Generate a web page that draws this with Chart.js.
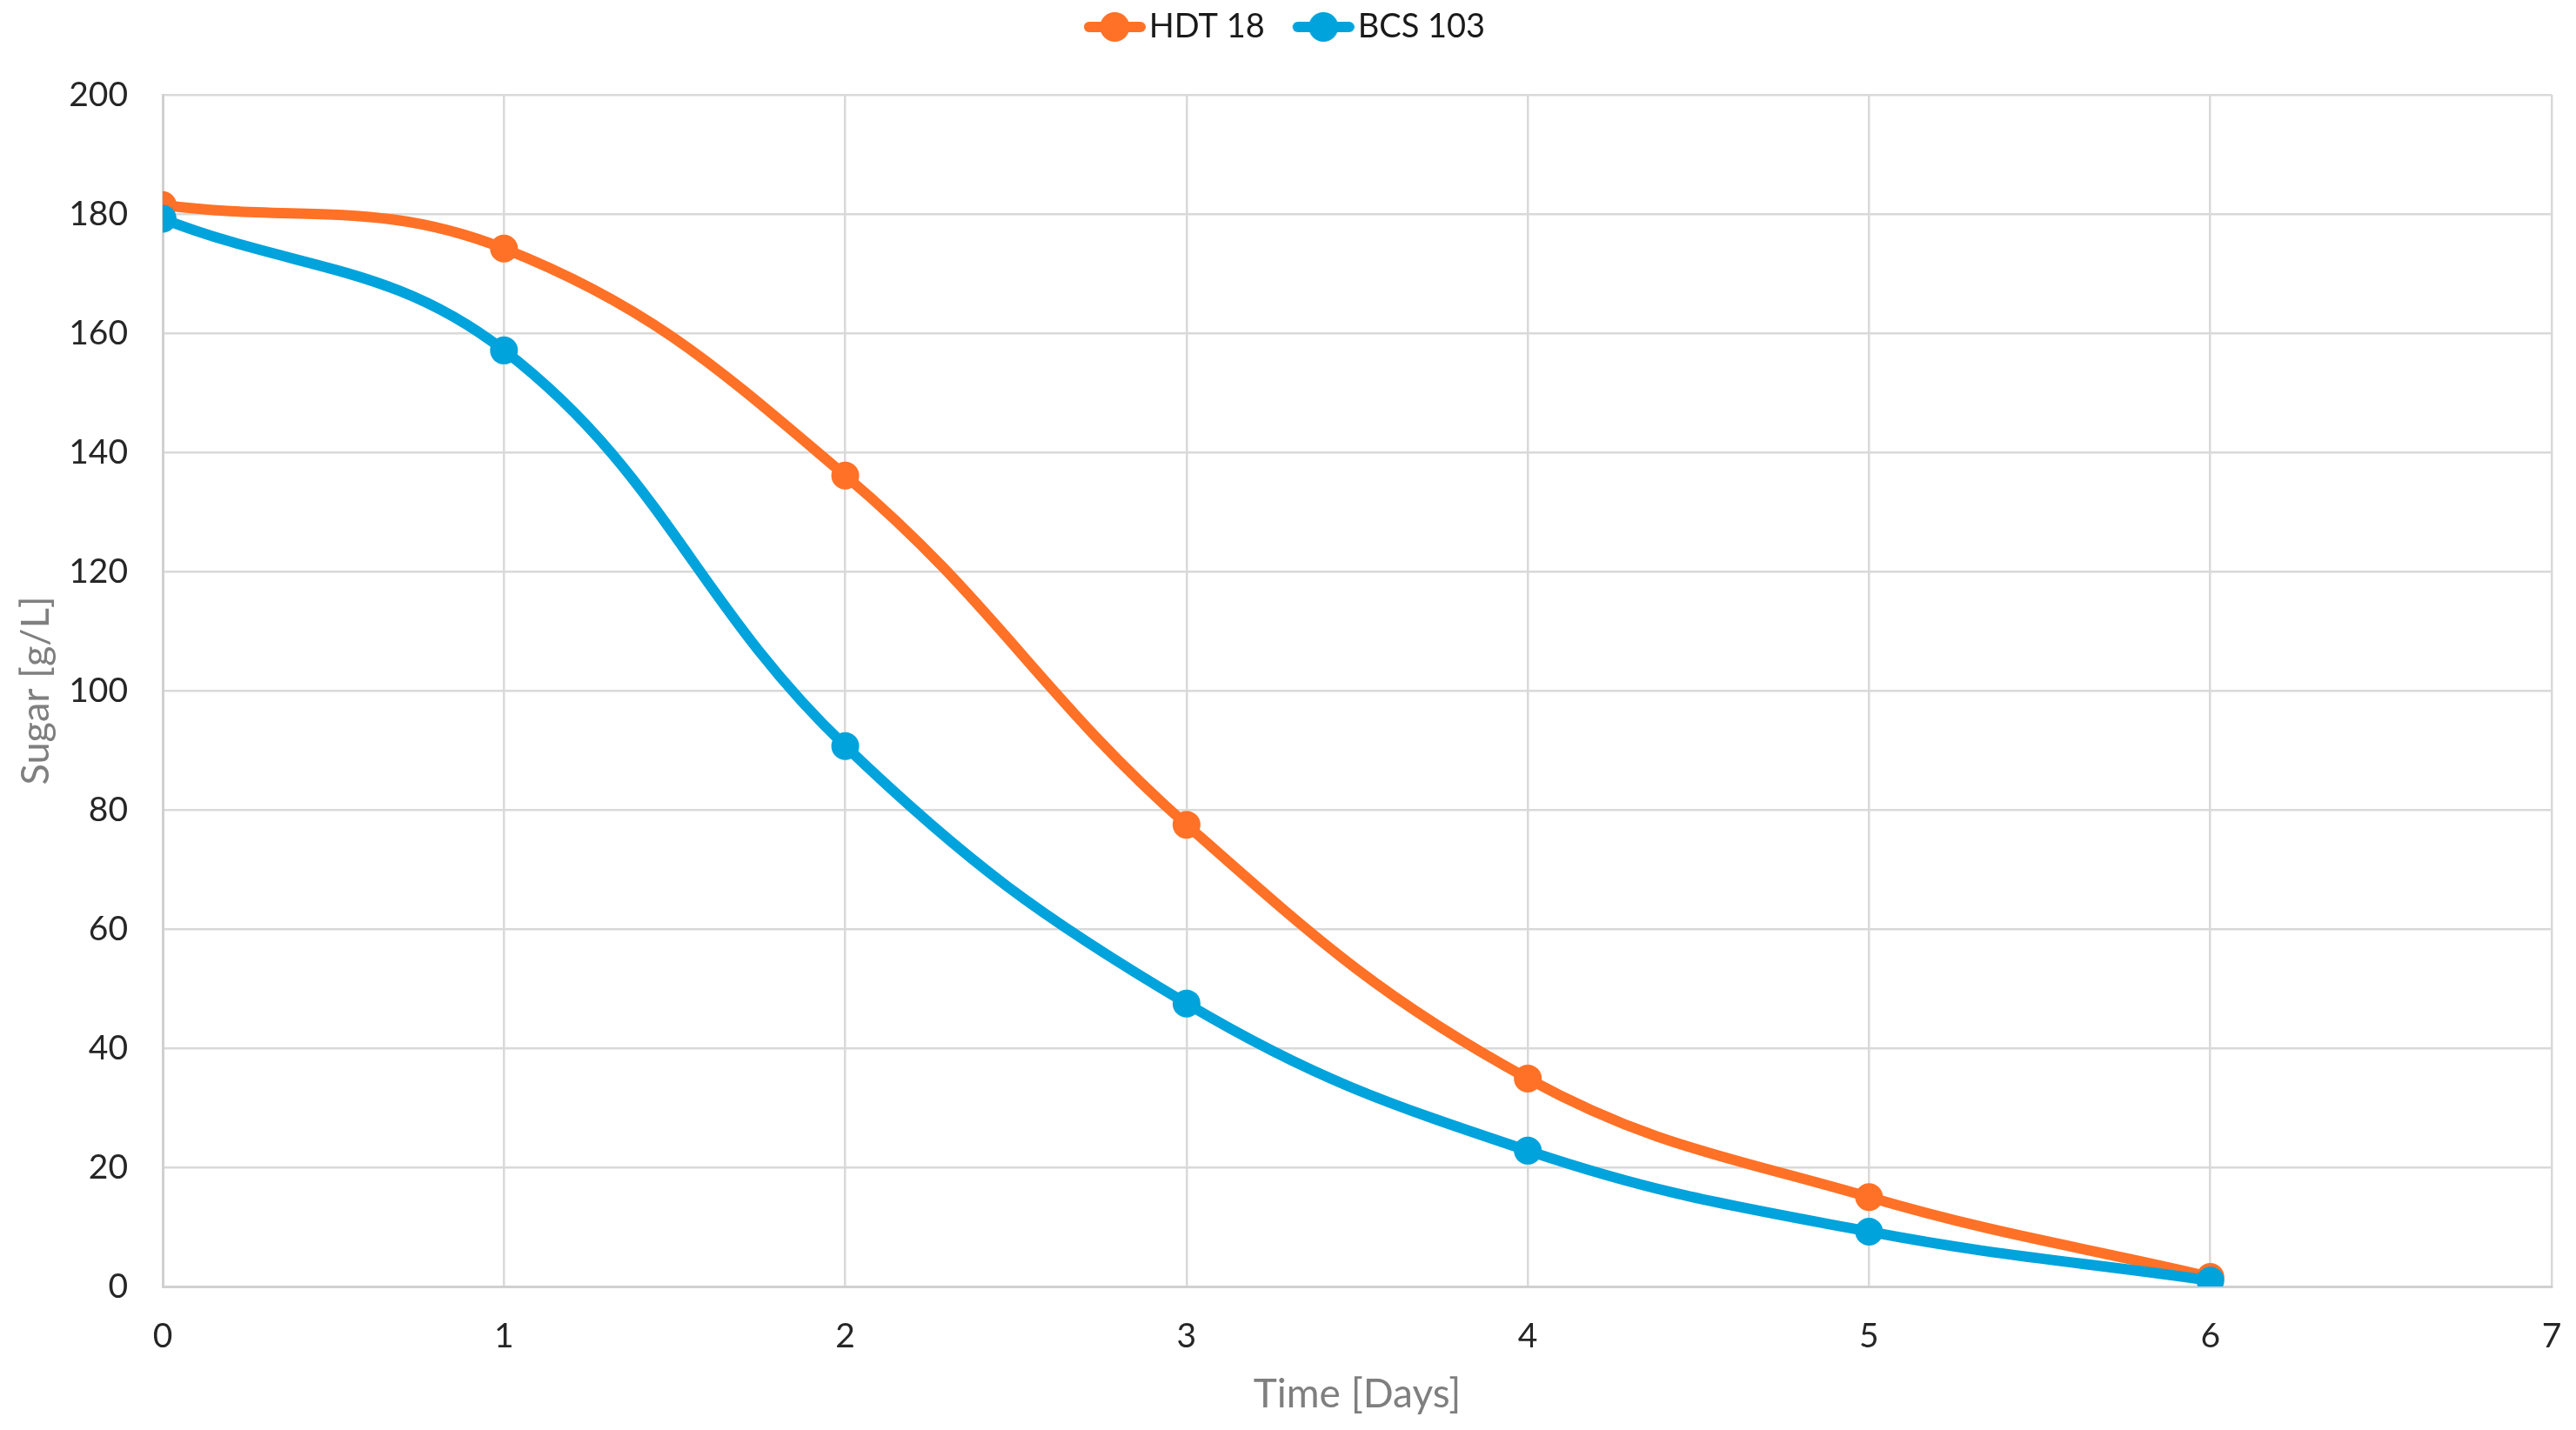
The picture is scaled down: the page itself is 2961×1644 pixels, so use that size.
<!DOCTYPE html>
<html>
<head>
<meta charset="utf-8">
<title>Sugar consumption</title>
<script src="https://cdn.jsdelivr.net/npm/chart.js@4.4.1/dist/chart.umd.min.js"></script>
<style>
  html, body { margin: 0; padding: 0; background: #fff; overflow: hidden; }
  #wrap { width: 2961px; height: 1644px; }
  canvas { display: block; }
</style>
</head>
<body>
<div id="wrap"><canvas id="myChart" width="2961" height="1644"></canvas></div>
<script>
// data
const days = [0, 1, 2, 3, 4, 5, 6];
const hdt18 = [181.5, 174.2, 136.1, 77.5, 34.9, 15.0, 1.6];
const bcs103 = [179.2, 157.1, 90.7, 47.5, 22.8, 9.2, 1.0];
const seriesNames = ['HDT 18', 'BCS 103'];
const xTitle = 'Time [Days]';
const yTitle = 'Sugar [g/L]';

const ORANGE = '#FF7126';
const BLUE = '#00A3DB';
const FONT = 'Lato, "Open Sans", sans-serif';

// legend marker: short thick line with a dot, drawn at the right of the image
function legendMarker(color) {
  const c = document.createElement('canvas');
  c.width = 106;
  c.height = 36;
  const g = c.getContext('2d');
  g.strokeStyle = color;
  g.lineWidth = 12;
  g.lineCap = 'round';
  g.beginPath();
  g.moveTo(41, 18);
  g.lineTo(100, 18);
  g.stroke();
  g.fillStyle = color;
  g.beginPath();
  g.arc(70.5, 18, 17, 0, Math.PI * 2);
  g.fill();
  return c;
}

function toPoints(ys) {
  return days.map((d, i) => ({ x: d, y: ys[i] }));
}

// keep the legend band at a fixed height so the plot starts where it does in the figure
const legendBand = {
  id: 'legendBand',
  afterInit(chart) {
    const fit = chart.legend.fit;
    chart.legend.fit = function () {
      fit.call(this);
      this.height = 109;
    };
  }
};

const ctx = document.getElementById('myChart');
new Chart(ctx, {
  type: 'line',
  data: {
    datasets: [
      {
        label: seriesNames[0],
        data: toPoints(hdt18),
        borderColor: ORANGE,
        backgroundColor: ORANGE,
        borderWidth: 12,
        pointRadius: 16,
        pointBorderWidth: 0,
        pointBackgroundColor: ORANGE,
        tension: 0.4,
        order: 2,
      },
      {
        label: seriesNames[1],
        data: toPoints(bcs103),
        borderColor: BLUE,
        backgroundColor: BLUE,
        borderWidth: 12,
        pointRadius: 16,
        pointBorderWidth: 0,
        pointBackgroundColor: BLUE,
        tension: 0.4,
        order: 1,
      },
    ],
  },
  options: {
    responsive: false,
    animation: false,
    layout: { padding: { top: 0, right: 28, bottom: 0, left: 0 } },
    plugins: {
      tooltip: { enabled: false },
      legend: {
        position: 'top',
        labels: {
          usePointStyle: true,
          pointStyleWidth: 76,
          padding: 12,
          color: '#1a1a1a',
          font: { family: FONT, size: 38 },
          generateLabels: (chart) =>
            chart.data.datasets.map((ds, i) => ({
              text: ds.label,
              datasetIndex: i,
              pointStyle: legendMarker(ds.borderColor),
              fillStyle: ds.borderColor,
              strokeStyle: ds.borderColor,
              lineWidth: 0,
              hidden: false,
              fontColor: '#1a1a1a',
            })),
        },
      },
    },
    scales: {
      x: {
        type: 'linear',
        min: 0,
        max: 7,
        afterFit: (scale) => {
          scale.height = 165;
          scale.paddingLeft = 0;
          scale.paddingRight = 0;
        },
        ticks: {
          stepSize: 1,
          padding: 34,
          color: '#262626',
          font: { family: FONT, size: 39 },
        },
        grid: { color: '#d9d9d9', lineWidth: 2.5, drawTicks: false },
        border: { color: '#d0d0d0', width: 3 },
        title: {
          display: true,
          text: xTitle,
          color: '#7f7f7f',
          font: { family: FONT, size: 46 },
          padding: { top: 0, bottom: 13 },
        },
      },
      y: {
        min: 0,
        max: 200,
        afterFit: (scale) => { scale.width = 187; },
        ticks: {
          stepSize: 20,
          padding: 40,
          color: '#262626',
          font: { family: FONT, size: 39 },
        },
        grid: { color: '#d9d9d9', lineWidth: 2.5, drawTicks: false },
        border: { color: '#d0d0d0', width: 3 },
        title: {
          display: true,
          text: yTitle,
          color: '#7f7f7f',
          font: { family: FONT, size: 45 },
          padding: { top: 14, bottom: 0 },
        },
      },
    },
  },
  plugins: [legendBand],
});
</script>
</body>
</html>
